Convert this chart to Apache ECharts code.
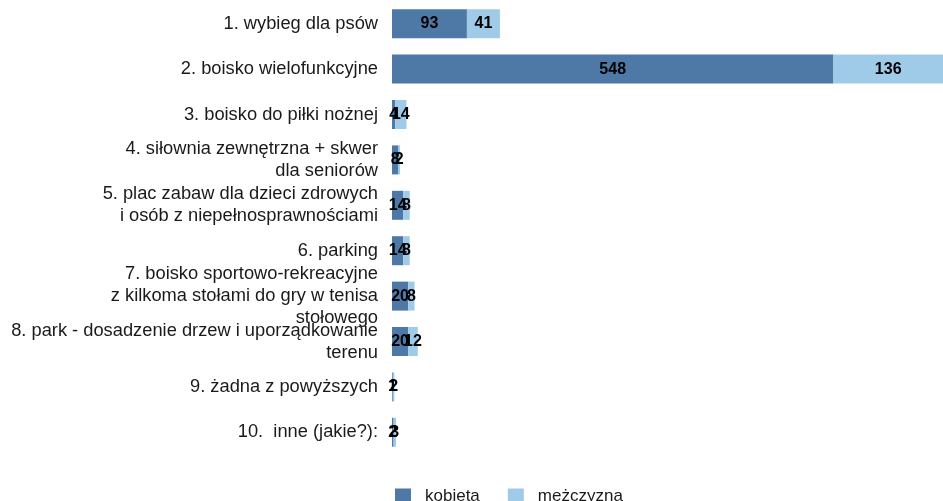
<!DOCTYPE html>
<html>
<head>
<meta charset="utf-8">
<script src="https://cdn.jsdelivr.net/npm/echarts@6/dist/echarts.min.js"></script>
<style>
  html, body { margin: 0; padding: 0; background: #fff; }
  #chart { width: 943px; height: 501px; }
</style>
</head>
<body>
<div id="chart"></div>
<script>
// Answer options (top to bottom)
const categories = [
  '1. wybieg dla psów',
  '2. boisko wielofunkcyjne',
  '3. boisko do piłki nożnej',
  '4. siłownia zewnętrzna + skwer\ndla seniorów',
  '5. plac zabaw dla dzieci zdrowych\ni osób z niepełnosprawnościami',
  '6. parking',
  '7. boisko sportowo-rekreacyjne\nz kilkoma stołami do gry w tenisa\nstołowego',
  '8. park - dosadzenie drzew i uporządkowanie\nterenu',
  '9. żadna z powyższych',
  '10.  inne (jakie?):'
];

// Number of answers by gender
const kobieta   = [93, 548, 4, 8, 14, 14, 20, 20, 1, 2];
const mezczyzna = [41, 136, 14, 2, 8, 8, 8, 12, 2, 3];

const seriesNames = ['kobieta', 'mężczyzna'];
const axisMax = 684;

const chart = echarts.init(document.getElementById('chart'), null, { renderer: 'canvas' });

const barLabel = {
  show: true,
  position: 'inside',
  color: '#000',
  fontFamily: 'Liberation Sans, Arial, sans-serif',
  fontWeight: 'bold',
  fontSize: 16
};

chart.setOption({
  animation: false,
  backgroundColor: '#ffffff',
  textStyle: { fontFamily: 'Liberation Sans, Arial, sans-serif' },
  grid: { left: 392, width: 555, top: 1, bottom: 46, containLabel: false },
  xAxis: {
    type: 'value',
    min: 0,
    max: axisMax,
    show: false
  },
  yAxis: {
    type: 'category',
    data: categories,
    inverse: true,
    axisLine: { show: false },
    axisTick: { show: false },
    splitLine: { show: false },
    axisLabel: {
      margin: 14,
      color: '#1a1a1a',
      fontSize: 18.3,
      lineHeight: 22,
      align: 'right',
      fontFamily: 'Liberation Sans, Arial, sans-serif'
    }
  },
  legend: {
    data: seriesNames,
    left: 390,
    top: 483,
    itemWidth: 16,
    itemHeight: 16,
    itemGap: 28,
    icon: 'rect',
    textStyle: {
      color: '#1a1a1a',
      fontSize: 17,
      padding: [0, 0, 0, 9],
      fontFamily: 'Liberation Sans, Arial, sans-serif'
    }
  },
  series: [
    {
      name: seriesNames[0],
      type: 'bar',
      stack: 'total',
      data: kobieta,
      barWidth: 29,
      itemStyle: { color: '#4e79a7' },
      label: barLabel
    },
    {
      name: seriesNames[1],
      type: 'bar',
      stack: 'total',
      data: mezczyzna,
      barWidth: 29,
      itemStyle: { color: '#a0cbe8' },
      label: barLabel
    }
  ]
});
</script>
</body>
</html>
